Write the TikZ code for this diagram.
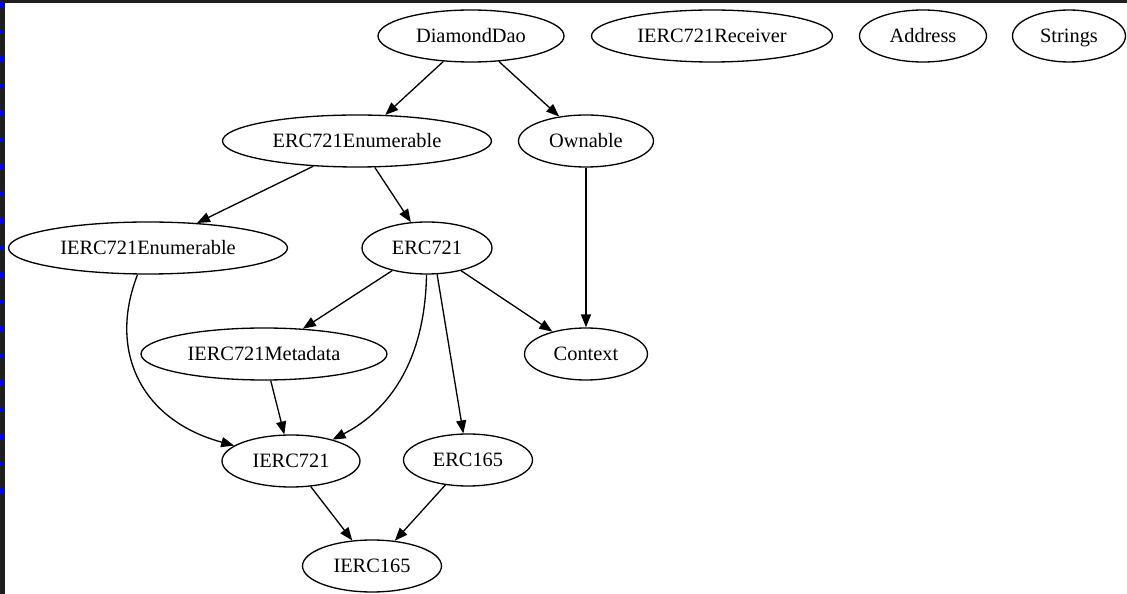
\documentclass[tikz,border=0pt]{standalone}
\usepackage{fontspec}
\setmainfont{Liberation Serif}
\usetikzlibrary{arrows.meta,shapes.geometric}
\tikzset{
  contract/.style={ellipse, draw, line width=0.75pt, inner sep=0pt, minimum height=1.04cm,
    text height=9pt, text depth=1.3pt, font=\fontsize{11.6}{14}\selectfont},
  dep/.style={line width=0.75pt, -{Triangle[length=0.26cm, width=0.2cm]}}
}
\begin{document}
\begin{tikzpicture}[x=0.02cm, y=-0.02cm]
                \useasboundingbox (0,0) rectangle (1127,594);
                \fill [white] (0,0) rectangle (1127,594);
                \fill [black!88] (0,0) rectangle (5,594);
                \fill [black!88] (0,0) rectangle (1127,3);
                \draw [blue, line width=0.08cm, dash pattern=on 0.1cm off 0.44cm] (2,2) -- (2,500);
                % contracts
                \node[contract, minimum width=3.72cm] (dao) at (471,36) {DiamondDao};
                \node[contract, minimum width=4.82cm] (receiver) at (712,36) {IERC721Receiver};
                \node[contract, minimum width=2.54cm] (address) at (923,36) {Address};
                \node[contract, minimum width=2.26cm] (strings) at (1069,36) {Strings};
                \node[contract, minimum width=5.38cm] (enumerable) at (357,141) {ERC721Enumerable};
                \node[contract, minimum width=2.70cm] (ownable) at (586,141) {Ownable};
                \node[contract, minimum width=5.58cm] (ienumerable) at (148,248) {IERC721Enumerable};
                \node[contract, minimum width=2.60cm] (erc721) at (427,248) {ERC721};
                \node[contract, minimum width=4.92cm] (metadata) at (264,354) {IERC721Metadata};
                \node[contract, minimum width=2.46cm] (context) at (586,354) {Context};
                \node[contract, minimum width=2.76cm] (ierc721) at (291,461) {IERC721};
                \node[contract, minimum width=2.58cm] (erc165) at (468,460) {ERC165};
                \node[contract, minimum width=2.78cm] (ierc165) at (372,566) {IERC165};
                % inheritance
                \draw [dep] (dao) -- (enumerable);
                \draw [dep] (dao) -- (ownable);
                \draw [dep] (enumerable.-150) -- (ienumerable.27);
                \draw [dep] (enumerable.-56) -- (erc721.122);
                \draw [dep] (ownable) -- (context);
                \draw [dep] (ienumerable) .. controls (108,350) and (140,420) .. (ierc721);
                \draw [dep] (erc721) -- (metadata);
                \draw [dep] (erc721) .. controls (425,360) and (390,410) .. (ierc721);
                \draw [dep] (erc721.-69) -- (erc165.100);
                \draw [dep] (erc721) -- (context);
                \draw [dep] (metadata) -- (ierc721);
                \draw [dep] (ierc721) -- (ierc165);
                \draw [dep] (erc165) -- (ierc165);
            \end{tikzpicture}
\end{document}
